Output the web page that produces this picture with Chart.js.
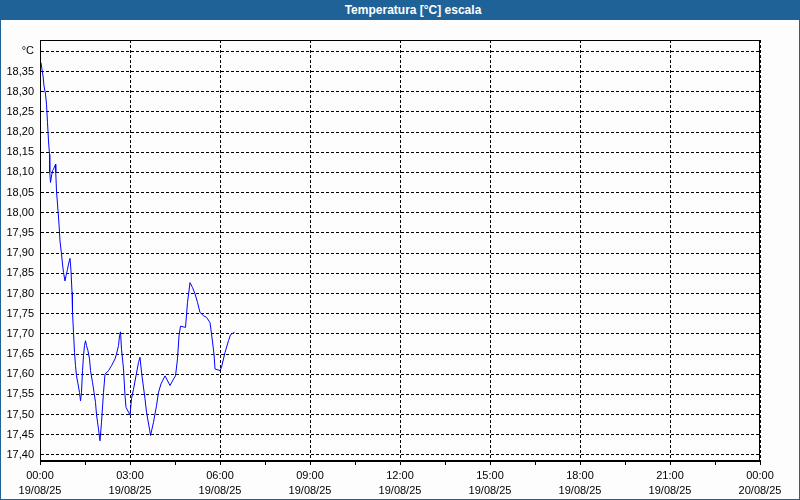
<!DOCTYPE html>
<html>
<head>
<meta charset="utf-8">
<script src="https://cdn.jsdelivr.net/npm/chart.js@4/dist/chart.umd.min.js"></script>
<style>
  html, body { margin: 0; padding: 0; background: #fcfdfc; }
  #wrap { position: relative; width: 800px; height: 500px; box-sizing: border-box;
          border: 1px solid #1e6298; border-top: none; background: #fcfdfc; overflow: hidden; }
  #title { position: absolute; left: -1px; top: 0; width: 800px; height: 20px; background: #1e6298;
           color: #ffffff; font: bold 12px "Liberation Sans", Arial, sans-serif; line-height: 20px;
           text-align: center; box-sizing: border-box; padding-left: 26px; }
  #c { position: absolute; left: 0; top: 20px; }
</style>
</head>
<body>
<div id="wrap">
  <div id="title">Temperatura [°C] escala</div>
  <canvas id="c" width="798" height="479"></canvas>
</div>
<script>
// minutes since 19/08/25 00:00
const times = [2,4,6,8,11,13,15,17,19,19.5,21,23,25,27,31,31.5,33,36,38,40,43,45,47,50,52,55,57,60,62,64,65,67,69,71,73,76,79,81,83,85,87,89,91,93,96,99,101,105,108,111,113,117,120,123,127,130,137,143,150,153,157,159,161,163,167,170,172,177,180,183,187,192,197,200,203,210,213,219,221,227,233,237,242,250,260,267,271,275,278,281,291,295,300,305,310,315,320,327,333,340,343,348,350,360,363,370,377,381,389];
const temps = [18.372,18.355,18.339,18.314,18.294,18.269,18.223,18.178,18.145,18.100,18.075,18.091,18.104,18.108,18.120,18.100,18.054,18.005,17.972,17.930,17.898,17.873,17.852,17.831,17.844,17.860,17.873,17.887,17.856,17.803,17.753,17.704,17.654,17.621,17.596,17.576,17.555,17.534,17.555,17.609,17.646,17.671,17.683,17.671,17.658,17.638,17.609,17.580,17.555,17.530,17.500,17.464,17.435,17.481,17.555,17.600,17.609,17.621,17.638,17.650,17.671,17.695,17.705,17.662,17.613,17.547,17.518,17.506,17.499,17.539,17.563,17.596,17.629,17.642,17.605,17.539,17.506,17.464,17.448,17.481,17.522,17.555,17.576,17.596,17.572,17.588,17.596,17.638,17.695,17.719,17.716,17.778,17.827,17.815,17.799,17.778,17.753,17.745,17.741,17.728,17.700,17.650,17.613,17.609,17.617,17.654,17.683,17.698,17.704];

const yTicks = [17.40,17.45,17.50,17.55,17.60,17.65,17.70,17.75,17.80,17.85,17.90,17.95,18.00,18.05,18.10,18.15,18.20,18.25,18.30,18.35,18.40];
const yUnit = '°C';
const xTicks = [0,90,180,270,360,450,540,630,720,810,900,990,1080,1170,1260,1350,1440];
const xMajorTimes = ['00:00','03:00','06:00','09:00','12:00','15:00','18:00','21:00','00:00'];
const xMajorDates = ['19/08/25','19/08/25','19/08/25','19/08/25','19/08/25','19/08/25','19/08/25','19/08/25','20/08/25'];

const points = times.map((t, i) => ({ x: t, y: temps[i] }));

const frame = {
  id: 'frame',
  afterDraw(chart) {
    const a = chart.chartArea, ctx = chart.ctx;
    ctx.save();
    ctx.strokeStyle = '#000';
    ctx.lineWidth = 1;
    ctx.setLineDash([]);
    ctx.strokeRect(Math.round(a.left) + 0.5, Math.round(a.top) + 0.5,
                   Math.round(a.right - a.left) - 1, Math.round(a.bottom - a.top) - 1);
    ctx.restore();
  }
};

new Chart(document.getElementById('c'), {
  type: 'line',
  data: { datasets: [{ data: points, borderColor: '#0000ff', borderWidth: 1,
                       pointRadius: 0, tension: 0, fill: false }] },
  options: {
    responsive: false, animation: false, devicePixelRatio: 1,
    layout: { padding: { left: 0, right: 39, top: 20, bottom: 0 } },
    plugins: { legend: { display: false }, title: { display: false }, tooltip: { enabled: false } },
    scales: {
      x: {
        type: 'linear', min: 0, max: 1440,
        afterBuildTicks: s => { s.ticks = xTicks.map(v => ({ value: v })); },
        afterFit: s => { s.height = 38; },
        grid: {
          color: c => (c.tick && c.tick.value % 180 === 0) ? '#000' : 'rgba(0,0,0,0)',
          tickColor: '#000', tickLength: 4, drawTicks: true, lineWidth: 1
        },
        border: { display: true, color: '#000', dash: [3, 2] },
        ticks: {
          autoSkip: false, maxRotation: 0, padding: 4, color: '#000',
          font: { family: '"Liberation Sans", Arial, sans-serif', size: 11, lineHeight: 1.35 },
          callback: v => {
            if (v % 180 !== 0) return '';
            const i = v / 180;
            return [xMajorTimes[i], xMajorDates[i]];
          }
        }
      },
      y: {
        type: 'linear', min: 17.385, max: 18.428,
        afterBuildTicks: s => { s.ticks = yTicks.map(v => ({ value: v })); },
        afterFit: s => { s.width = 39; },
        grid: { color: '#000', drawTicks: false, lineWidth: 1 },
        border: { display: true, color: '#000', dash: [3, 2] },
        ticks: {
          padding: 6, color: '#000',
          font: { family: '"Liberation Sans", Arial, sans-serif', size: 11 },
          callback: v => (Math.abs(v - 18.40) < 1e-6) ? yUnit : v.toFixed(2).replace('.', ',')
        }
      }
    }
  },
  plugins: [frame]
});
</script>
</body>
</html>
